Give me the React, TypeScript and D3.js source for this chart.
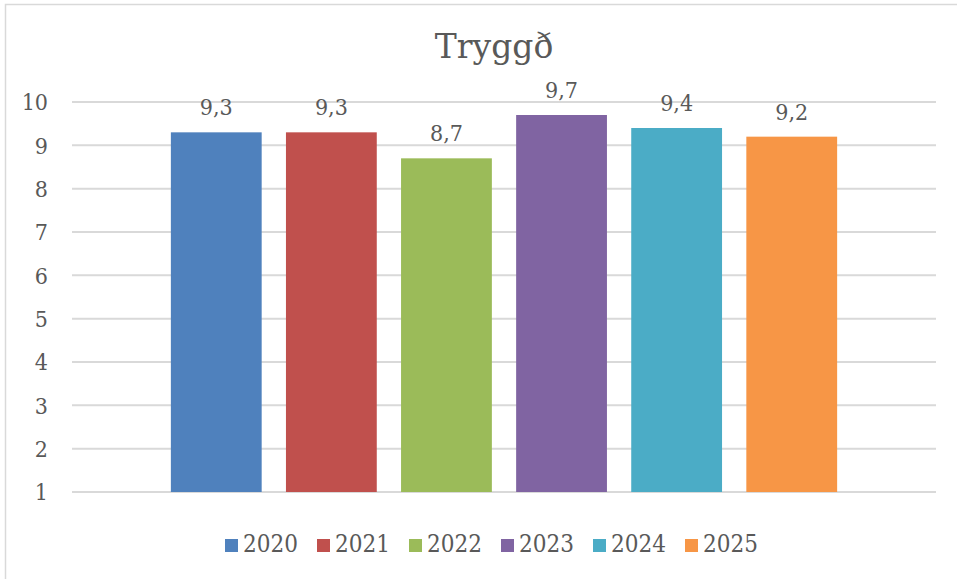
import React from 'react';
import * as d3 from 'd3';

const years = ['2020', '2021', '2022', '2023', '2024', '2025'];
const scores = [9.3, 9.3, 8.7, 9.7, 9.4, 9.2];
const colors = ['#4f81bd', '#c0504d', '#9bbb59', '#8064a2', '#4bacc6', '#f79646'];
const yTicks = [1, 2, 3, 4, 5, 6, 7, 8, 9, 10];

const W = 957;
const H = 579;
const font = '"DejaVu Serif Condensed", "DejaVu Serif", serif';
const textColor = '#595959';

const App = () => {
  const x = d3.scaleBand().domain(years).range([72, 936]).paddingInner(0.211).paddingOuter(0.859);
  const y = d3.scaleLinear().domain([1, 10]).range([492, 102]);
  const fmt = (v: number) => d3.format('.1f')(v).replace('.', ',');

  return (
    <svg width={W} height={H} style={{ position: 'absolute', left: 0, top: 0, background: '#fff' }}>
      <rect x={5.5} y={4.5} width={W + 10} height={H + 10} fill="#fff" stroke="#d9d9d9" strokeWidth={1.5} />
      <text x={494} y={58} textAnchor="middle" fontFamily='"DejaVu Serif", serif' fontSize={33} fill={textColor}>
        Tryggð
      </text>
      {yTicks.map((t) => (
        <g key={t}>
          <line x1={72} x2={936} y1={y(t)} y2={y(t)} stroke="#d9d9d9" strokeWidth={2} />
          <text
            x={48}
            y={y(t) + 8.3}
            textAnchor="end"
            fontFamily={font}
            fontStretch="condensed"
            fontSize={23}
            fill={textColor}
          >
            {t}
          </text>
        </g>
      ))}
      {years.map((yr, i) => (
        <g key={yr}>
          <rect x={x(yr)} y={y(scores[i])} width={x.bandwidth()} height={y(1) - y(scores[i])} fill={colors[i]} />
          <text
            x={(x(yr) as number) + x.bandwidth() / 2}
            y={y(scores[i]) - 17}
            textAnchor="middle"
            fontFamily={font}
            fontStretch="condensed"
            fontSize={23}
            fill={textColor}
          >
            {fmt(scores[i])}
          </text>
        </g>
      ))}
      {years.map((yr, i) => (
        <g key={'lg' + yr} transform={`translate(${225 + i * 92},0)`}>
          <rect x={0} y={539} width={13} height={13} fill={colors[i]} />
          <text x={18} y={552} fontFamily={font} fontStretch="condensed" fontSize={24} fill={textColor}>
            {yr}
          </text>
        </g>
      ))}
    </svg>
  );
};

export default App;
